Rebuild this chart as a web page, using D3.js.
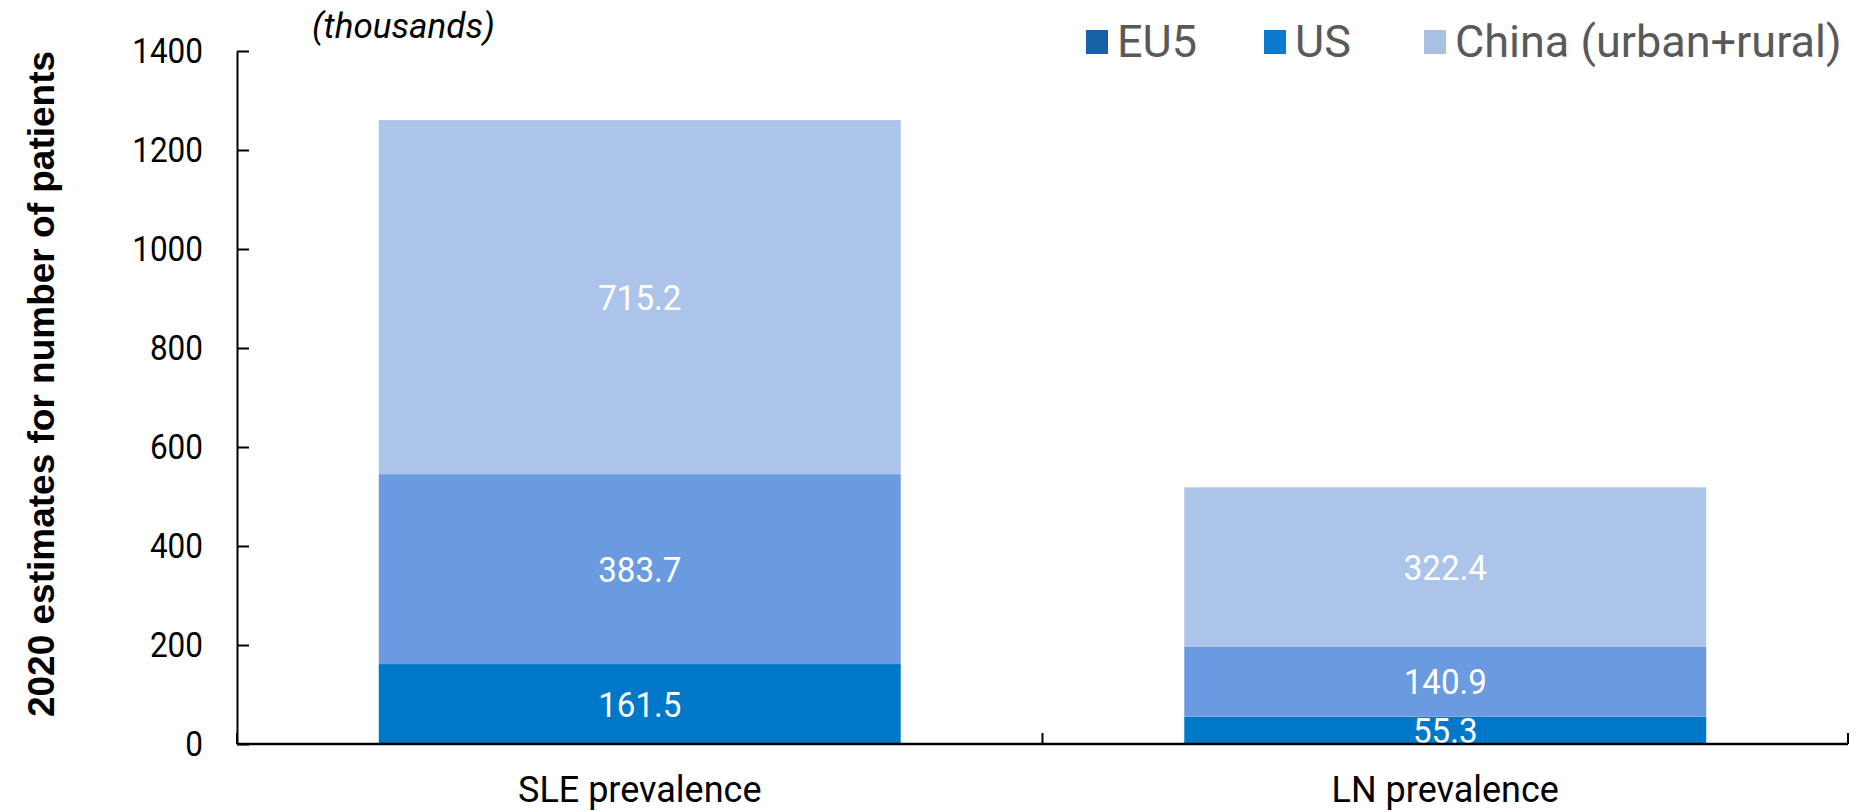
<!DOCTYPE html>
<html>
<head>
<meta charset="utf-8">
<script src="https://cdn.jsdelivr.net/npm/d3@7"></script>
<style>
  html, body { margin: 0; padding: 0; background: #ffffff; }
  svg { display: block; }
</style>
</head>
<body>
<svg id="chart" width="1867" height="812"></svg>
<script>
// ---- data ----
const categories = ["SLE prevalence", "LN prevalence"];
const seriesNames = ["EU5", "US", "China (urban+rural)"];
const eu5Values = [161.5, 55.3];
const usValues = [383.7, 140.9];
const chinaValues = [715.2, 322.4];
const yTicks = [0, 200, 400, 600, 800, 1000, 1200, 1400];
const barColors = ["#0078c9", "#6a9be0", "#adc4ea"];
const legendColors = ["#1961a6", "#0a7bd1", "#a9c0e3"];

const rows = categories.map((c, i) => ({
  category: c,
  "EU5": eu5Values[i],
  "US": usValues[i],
  "China (urban+rural)": chinaValues[i]
}));

const svg = d3.select("#chart");
const x0 = 237, x1 = 1848, yBottom = 744, yTop = 51;

const x = d3.scaleBand().domain(categories).range([x0, x1])
  .paddingInner(0.352).paddingOuter(0.176);
const y = d3.scaleLinear().domain([0, 1400]).range([yBottom, yTop]);

const stacked = d3.stack().keys(seriesNames)(rows);

// bars
const g = svg.append("g");
stacked.forEach((s, si) => {
  g.selectAll(null).data(s).enter().append("rect")
    .attr("x", d => x(d.data.category))
    .attr("width", x.bandwidth())
    .attr("y", d => y(d[1]))
    .attr("height", d => y(d[0]) - y(d[1]))
    .attr("fill", barColors[si]);
});

// data labels (slightly condensed)
const lblSx = 0.92;
stacked.forEach((s, si) => {
  g.selectAll(null).data(s).enter().append("text")
    .attr("transform", d => `translate(${x(d.data.category) + x.bandwidth() / 2},${(y(d[0]) + y(d[1])) / 2}) scale(${lblSx},1)`)
    .attr("text-anchor", "middle")
    .attr("dominant-baseline", "central")
    .attr("font-family", "Roboto, sans-serif")
    .attr("font-size", 36)
    .attr("fill", "#ffffff")
    .text(d => (d[1] - d[0]).toFixed(1));
});

// y axis
const tickSx = 0.9;
const yAxis = d3.axisLeft(y).tickValues(yTicks).tickSizeInner(-12).tickSizeOuter(0).tickPadding(34)
  .tickFormat(d3.format("d"));
const ya = svg.append("g").attr("transform", `translate(${x0},0)`).call(yAxis);
ya.select(".domain").attr("stroke", "#000").attr("stroke-width", 2);
ya.selectAll(".tick line").attr("stroke", "#000").attr("stroke-width", 2);
ya.selectAll(".tick text")
  .attr("x", -34 / tickSx)
  .attr("transform", `scale(${tickSx},1)`)
  .attr("font-family", "Roboto, sans-serif")
  .attr("font-size", 35)
  .attr("fill", "#000");

// x axis
const xAxis = d3.axisBottom(x).tickSize(0).tickPadding(0);
const xa = svg.append("g").attr("transform", `translate(0,${yBottom})`).call(xAxis);
xa.select(".domain").remove();
xa.selectAll(".tick text")
  .attr("y", 58).attr("dy", 0)
  .attr("font-family", "Roboto, sans-serif")
  .attr("font-size", 36)
  .attr("fill", "#000");
svg.append("line")
  .attr("x1", x0).attr("x2", x1).attr("y1", yBottom).attr("y2", yBottom)
  .attr("stroke", "#000").attr("stroke-width", 2.5);
const step = x.step();
const boundaries = [x0].concat(categories.map(c => x(c) + x.bandwidth() + step * x.paddingInner() / 2));
svg.selectAll(null).data(boundaries).enter().append("line")
  .attr("x1", d => d).attr("x2", d => d)
  .attr("y1", yBottom).attr("y2", yBottom - 11)
  .attr("stroke", "#000").attr("stroke-width", 2);

// y axis title
svg.append("text")
  .attr("transform", `translate(54,384) rotate(-90)`)
  .attr("text-anchor", "middle")
  .attr("font-family", "'Liberation Sans', Arial, sans-serif")
  .attr("font-weight", "bold")
  .attr("font-size", 37)
  .attr("fill", "#000")
  .text("2020 estimates for number of patients");

// units note
svg.append("text")
  .attr("x", 312).attr("y", 38)
  .attr("font-family", "Roboto, sans-serif")
  .attr("font-style", "italic")
  .attr("font-size", 35)
  .attr("fill", "#000")
  .text("(thousands)");

// legend
const legendX = [1086, 1264, 1424];
const lg = svg.append("g");
seriesNames.forEach((n, i) => {
  lg.append("rect").attr("x", legendX[i]).attr("y", 30).attr("width", 22).attr("height", 24)
    .attr("fill", legendColors[i]);
  lg.append("text").attr("x", legendX[i] + 31).attr("y", 41)
    .attr("dominant-baseline", "central")
    .attr("font-family", "Roboto, sans-serif")
    .attr("font-size", 45)
    .attr("fill", "#595959")
    .text(n);
});
</script>
</body>
</html>
